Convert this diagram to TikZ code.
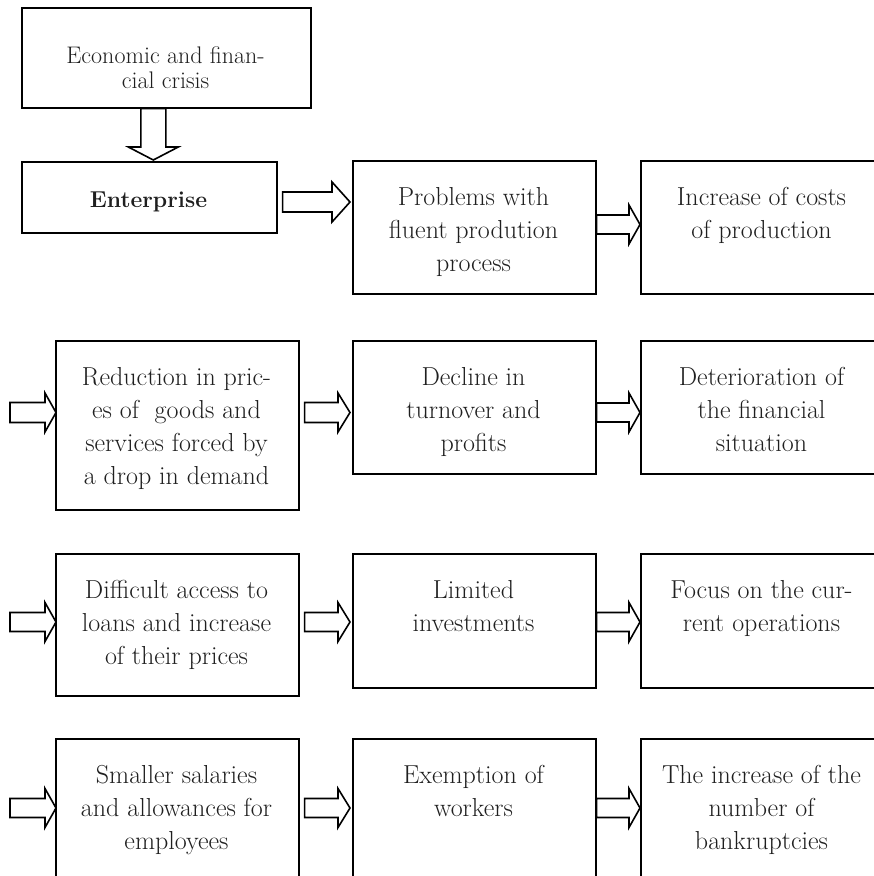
\documentclass[tikz,border=0pt]{standalone}
\usetikzlibrary{calc}
\newcommand{\tlines}[1]{\begin{tabular}[t]{@{}c@{}}#1\end{tabular}}
% block arrow pointing right: #1 tail point, #2 tip point, #3 centre y, #4 shaft half, #5 head half, #6 head length
\newcommand{\blockarrowR}[6]{%
  \draw[blockarr] let \p1=#1, \p2=#2, \p3=(0,#3) in
    (\x1,\y3+#4) -- (\x2-#6,\y3+#4) -- (\x2-#6,\y3+#5) -- (\x2,\y3)
    -- (\x2-#6,\y3-#5) -- (\x2-#6,\y3-#4) -- (\x1,\y3-#4) -- cycle;}
\tikzset{
  boxnode/.style={draw=black, line width=1.6pt, anchor=north west, inner sep=0pt,
    minimum width=243pt},
  txt/.style={anchor=base, inner sep=0pt, text=black!88,
    font=\fontsize{26}{33}\selectfont},
  blockarr/.style={draw=black, line width=1.6pt, line join=miter}
}
\begin{document}
\begin{tikzpicture}[x=1pt,y=-1pt]
\useasboundingbox (0,0) rectangle (874,876);
\clip (0,0) rectangle (874,876);

% ---- boxes ----
\node[boxnode, minimum width=289pt, minimum height=100pt] (eco) at (21,7) {};
\node[boxnode, minimum width=255pt, minimum height=71pt] (ent) at (21,161) {};

\node[boxnode, minimum height=133pt] (prob) at (352,160) {};
\node[boxnode, minimum height=133pt] (inc)  at (640,160) {};

\node[boxnode, minimum height=169pt] (red) at (55,340) {};
\node[boxnode, minimum height=133pt] (dec) at (352,340) {};
\node[boxnode, minimum height=133pt] (det) at (640,340) {};

\node[boxnode, minimum height=142pt] (dif) at (55,553) {};
\node[boxnode, minimum height=134pt] (lim) at (352,553) {};
\node[boxnode, minimum height=134pt] (foc) at (640,553) {};

\node[boxnode, minimum height=142pt] (sal)  at (55,738) {};
\node[boxnode, minimum height=142pt] (exe)  at (352,738) {};
\node[boxnode, minimum height=142pt] (bank) at (640,738) {};

% ---- texts ----
\node[txt, font=\fontsize{24}{25}\selectfont] (ecoT) at (165.5,63) {\tlines{Economic and finan-\\cial crisis}};
\node[txt, font=\fontsize{23}{28}\selectfont\bfseries] (entT) at (148.5,207) {Enterprise};

\node[txt] (probT) at (473.5,205) {\tlines{Problems with\\fluent prodution\\process}};
\node[txt] (incT)  at (761.5,205) {\tlines{Increase of costs\\of production}};

\node[txt] (redT) at (176.5,385) {\tlines{Reduction in pric-\\es of~ goods and\\services forced by\\a drop in demand}};
\node[txt] (decT) at (473.5,385) {\tlines{Decline in\\turnover and\\profits}};
\node[txt] (detT) at (761.5,385) {\tlines{Deterioration of\\the financial\\situation}};

\node[txt] (difT) at (176.5,598) {\tlines{Difficult access to\\loans and increase\\of their prices}};
\node[txt] (limT) at (473.5,598) {\tlines{Limited\\investments}};
\node[txt] (focT) at (761.5,598) {\tlines{Focus on the cur-\\rent operations}};

\node[txt] (salT)  at (176.5,783) {\tlines{Smaller salaries\\and allowances for\\employees}};
\node[txt] (exeT)  at (473.5,783) {\tlines{Exemption of\\workers}};
\node[txt] (bankT) at (761.5,783) {\tlines{The increase of the\\number of\\bankruptcies}};

% ---- free ends of the left arrows ----
\coordinate (l2) at (10,412.5);
\coordinate (l3) at (10,622);
\coordinate (l4) at (10,808);

% ---- down arrow ----
\draw[blockarr] let \p1=($(eco.south)+(-13,0)$), \p2=(ent.north) in
  (\x1-12.5pt,\y1) -- (\x1-12.5pt,\y2+14pt) -- (\x1-25pt,\y2+14pt) -- (\x1,\y2+1pt)
  -- (\x1+25pt,\y2+14pt) -- (\x1+12.5pt,\y2+14pt) -- (\x1+12.5pt,\y1) -- cycle;

% ---- row 1 ----
\blockarrowR{($(ent.east)+(5,0)$)}{($(prob.west)+(-2,0)$)}{202}{10pt}{20pt}{18pt}
\blockarrowR{(prob.east)}{(inc.west)}{224.5}{9.5pt}{19.5pt}{11pt}

% ---- row 2 ----
\blockarrowR{(l2)}{($(red.west)+(1,0)$)}{412.5}{10pt}{19.5pt}{11pt}
\blockarrowR{($(red.east)+(5,0)$)}{($(dec.west)+(-2,0)$)}{412.5}{10pt}{19.5pt}{12pt}
\blockarrowR{(dec.east)}{(det.west)}{412.5}{9.5pt}{19.5pt}{11pt}

% ---- row 3 ----
\blockarrowR{(l3)}{($(dif.west)+(1,0)$)}{622}{9.5pt}{19.5pt}{11pt}
\blockarrowR{($(dif.east)+(5,0)$)}{($(lim.west)+(-2,0)$)}{622}{9.5pt}{19.5pt}{12pt}
\blockarrowR{(lim.east)}{(foc.west)}{622}{9.5pt}{19.5pt}{11pt}

% ---- row 4 ----
\blockarrowR{(l4)}{($(sal.west)+(1,0)$)}{808}{9.5pt}{19.5pt}{11pt}
\blockarrowR{($(sal.east)+(5,0)$)}{($(exe.west)+(-2,0)$)}{808}{9.5pt}{19.5pt}{12pt}
\blockarrowR{(exe.east)}{(bank.west)}{808}{9.5pt}{19.5pt}{11pt}
\end{tikzpicture}
\end{document}
